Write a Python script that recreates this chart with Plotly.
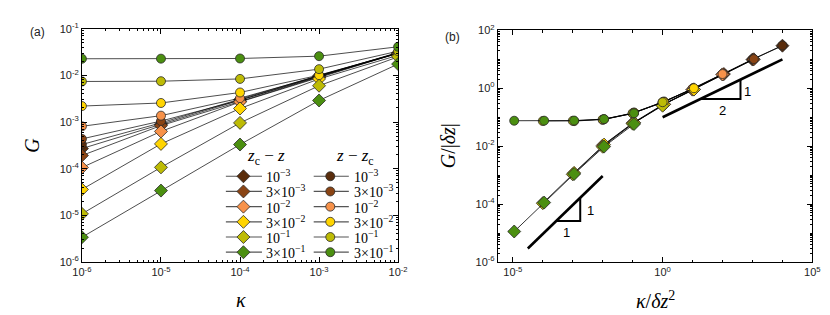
import numpy as np
import plotly.graph_objects as go

# ---------------- data ----------------
kappa = [1e-6, 1e-5, 1e-4, 1e-3, 1e-2]
dz_values = [1e-3, 3e-3, 1e-2, 3e-2, 1e-1, 3e-1]
dz_labels = ["10<sup>−3</sup>", "3×10<sup>−3</sup>", "10<sup>−2</sup>",
             "3×10<sup>−2</sup>", "10<sup>−1</sup>", "3×10<sup>−1</sup>"]
colors = ["#5a2d0c", "#8a4414", "#f7924a", "#ffd400", "#bdbb05", "#4b8f10"]

# G for z_c - z (diamonds), one list per dz, over kappa
G_below_1e3 = [2.7e-4, 9.0e-4, 3.0e-3, 9.8e-3, 0.0295]
G_below_3e3 = [1.92e-4, 8.4e-4, 2.76e-3, 9.3e-3, 0.0300]
G_below_1e2 = [1.06e-4, 6.3e-4, 2.7e-3, 9.0e-3, 0.0300]
G_below_3e2 = [3.6e-5, 3.4e-4, 1.95e-3, 8.4e-3, 0.027]
G_below_1e1 = [1.08e-5, 1.07e-4, 9.6e-4, 6.0e-3, 0.025]
G_below_3e1 = [3.4e-6, 3.4e-5, 3.3e-4, 2.9e-3, 0.0175]

# G for z - z_c (circles)
G_above_1e3 = [3.3e-4, 9.6e-4, 3.1e-3, 0.0100, 0.030]
G_above_3e3 = [4.35e-4, 1.05e-3, 2.94e-3, 9.45e-3, 0.0306]
G_above_1e2 = [8.1e-4, 1.37e-3, 3.25e-3, 9.7e-3, 0.031]
G_above_3e2 = [2.2e-3, 2.56e-3, 4.3e-3, 0.0101, 0.030]
G_above_1e1 = [7.4e-3, 7.5e-3, 8.4e-3, 0.0136, 0.033]
G_above_3e1 = [0.0227, 0.0228, 0.0230, 0.0258, 0.041]

G_below = [G_below_1e3, G_below_3e3, G_below_1e2, G_below_3e2, G_below_1e1, G_below_3e1]
G_above = [G_above_1e3, G_above_3e3, G_above_1e2, G_above_3e2, G_above_1e1, G_above_3e1]

# tick labels
left_x_exp = [-6, -5, -4, -3, -2]
left_y_exp = [-6, -5, -4, -3, -2, -1]
right_x_exp = [-5, 0, 5]
right_y_exp = [-6, -4, -2, 0, 2]

# ---------------- figure ----------------
W, H = 830, 315
def px_x(p):
    return p / W
def px_y(p):
    return 1 - p / H

fig = go.Figure()
mk_line = dict(color="#2a2a2a", width=0.8)
k = np.array(kappa)

for i, dz in enumerate(dz_values):
    gb = np.array(G_below[i])
    ga = np.array(G_above[i])
    fig.add_trace(go.Scatter(
        x=k, y=gb, mode="lines+markers", xaxis="x", yaxis="y",
        line=dict(color="black", width=0.7),
        marker=dict(symbol="diamond", size=10, color=colors[i], line=mk_line),
        showlegend=False))
    fig.add_trace(go.Scatter(
        x=k, y=ga, mode="lines+markers", xaxis="x", yaxis="y",
        line=dict(color="black", width=0.7),
        marker=dict(symbol="circle", size=9, color=colors[i], line=mk_line),
        showlegend=False))

for i, dz in enumerate(dz_values):
    gb = np.array(G_below[i])
    ga = np.array(G_above[i])
    fig.add_trace(go.Scatter(
        x=k / dz**2, y=gb / dz, mode="lines+markers", xaxis="x2", yaxis="y2",
        line=dict(color="black", width=0.8),
        marker=dict(symbol="diamond", size=10, color=colors[i], line=mk_line),
        showlegend=False))
    fig.add_trace(go.Scatter(
        x=k / dz**2, y=ga / dz, mode="lines+markers", xaxis="x2", yaxis="y2",
        line=dict(color="black", width=0.8),
        marker=dict(symbol="circle", size=9, color=colors[i], line=mk_line),
        showlegend=False))

# slope guides (power laws) on right panel
def guide(x0, x1, c, p):
    xs = np.array([10**x0, 10**x1])
    return xs, 10**c * xs**p

for gx, gy in (guide(-4.5, -2.0, -1.03, 1.0), guide(0.0, 4.0, -1.0, 0.5)):
    fig.add_trace(go.Scatter(x=gx, y=gy, mode="lines", xaxis="x2", yaxis="y2",
                             line=dict(color="black", width=2.6), showlegend=False))
tri1 = ([10**-3.55, 10**-2.75, 10**-2.75], [10**-4.58, 10**-4.58, 10**-3.78])
tri2 = ([10**1.25, 10**2.6, 10**2.6], [10**-0.375, 10**-0.375, 10**0.3])
for tx, ty in (tri1, tri2):
    fig.add_trace(go.Scatter(x=tx, y=ty, mode="lines", xaxis="x2", yaxis="y2",
                             line=dict(color="black", width=2.0), showlegend=False))

# ---------------- legend (two columns, drawn on an overlay pixel axis) ----------------
leg_row0, leg_dy = 167.7, 15.9
leg_cols = [dict(x0=213, xm=231, x1=250, tx=252, sym="diamond", size=10, head=254,
                 title="<i>z</i><sub>c</sub> − <i>z</i>"),
            dict(x0=303, xm=320, x1=339, tx=342, sym="circle", size=9, head=345,
                 title="<i>z</i> − <i>z</i><sub>c</sub>")]
leg_ann = []
for c in leg_cols:
    leg_ann.append(dict(x=c["head"], y=148, text=c["title"], xref="x3", yref="y3",
                        showarrow=False, xanchor="center", yanchor="middle",
                        font=dict(family="Liberation Serif", size=17, color="black")))
    for i in range(len(dz_values)):
        yy = leg_row0 + i * leg_dy
        fig.add_trace(go.Scatter(x=[c["x0"], c["x1"]], y=[yy, yy], mode="lines",
                                 xaxis="x3", yaxis="y3", line=dict(color="#555", width=1.2),
                                 showlegend=False, hoverinfo="skip"))
        fig.add_trace(go.Scatter(x=[c["xm"]], y=[yy], mode="markers", xaxis="x3", yaxis="y3",
                                 marker=dict(symbol=c["sym"], size=c["size"], color=colors[i],
                                             line=mk_line),
                                 showlegend=False, hoverinfo="skip"))
        leg_ann.append(dict(x=c["tx"], y=yy, text=dz_labels[i], xref="x3", yref="y3",
                            showarrow=False, xanchor="left", yanchor="middle",
                            font=dict(family="Liberation Serif", size=14, color="black")))

tickfont = dict(family="Liberation Sans", size=11, color="#222")

def minor_vals(lo, hi, subs):
    return [s * 10.0**d for d in range(lo, hi) for s in subs]

def pow_ticks(exps):
    return [10.0**e for e in exps], ["10<sup>%d</sup>" % e for e in exps]

axis_common = dict(type="log", showgrid=False, zeroline=False, showline=True,
                   linecolor="black", linewidth=1, mirror="allticks",
                   ticks="inside", ticklen=5, tickcolor="black", tickwidth=0.8,
                   tickfont=tickfont, tickmode="array")
minor_common = dict(ticks="inside", ticklen=2.5, tickcolor="black", tickwidth=0.6)

lx_v, lx_t = pow_ticks(left_x_exp)
ly_v, ly_t = pow_ticks(left_y_exp)
rx_v, rx_t = pow_ticks(right_x_exp)
ry_v, ry_t = pow_ticks(right_y_exp)

fig.update_layout(
    width=W, height=H, margin=dict(l=0, r=0, t=0, b=0),
    paper_bgcolor="white", plot_bgcolor="rgba(0,0,0,0)",
    font=dict(color="black"), showlegend=False,
    xaxis=dict(axis_common, domain=[px_x(65.5), px_x(389.5)], range=[-6, -2],
               tickvals=lx_v, ticktext=lx_t, anchor="y",
               minor=dict(minor_common, tickvals=minor_vals(-6, -2, range(2, 10)))),
    yaxis=dict(axis_common, domain=[px_y(257.5), px_y(13.3)], range=[-6, -1],
               tickvals=ly_v, ticktext=ly_t, anchor="x",
               minor=dict(minor_common, tickvals=minor_vals(-6, -1, range(2, 10)))),
    xaxis2=dict(axis_common, domain=[px_x(491.7), px_x(814)], range=[-5.5, 5],
                tickvals=rx_v, ticktext=rx_t, anchor="y2",
                minor=dict(minor_common, tickvals=[10.0**d for d in range(-5, 6)])),
    yaxis2=dict(axis_common, domain=[px_y(257.5), px_y(15)], range=[-6, 2],
                tickvals=ry_v, ticktext=ry_t, anchor="x2",
                minor=dict(minor_common, tickvals=minor_vals(-6, 2, range(1, 10)))),
    xaxis3=dict(domain=[0, 1], range=[0, W], visible=False, fixedrange=True, anchor="y3"),
    yaxis3=dict(domain=[0, 1], range=[H, 0], visible=False, fixedrange=True, anchor="x3"),
)

ann_font = dict(family="Liberation Serif", size=20, color="black")
annotations = [
    dict(x=px_x(20), y=px_y(17), text="(a)", font=dict(family="Liberation Sans", size=12, color="#222")),
    dict(x=px_x(445), y=px_y(22), text="(b)", font=dict(family="Liberation Sans", size=12, color="#222")),
    dict(x=px_x(14), y=px_y(135), text="<i>G</i>", textangle=-90, font=ann_font),
    dict(x=px_x(228), y=px_y(297), text="<i>κ</i>", font=ann_font),
    dict(x=px_x(442), y=px_y(136), text="<i>G</i>/|<i>δz</i>|", textangle=-90, font=ann_font),
    dict(x=px_x(653), y=px_y(297), text="<i>κ</i>/<i>δz</i><sup>2</sup>", font=ann_font),
]
for a in annotations:
    a.update(xref="paper", yref="paper", showarrow=False, xanchor="center", yanchor="middle")

lab_font = dict(family="Liberation Sans", size=13, color="black")
for xv, yv, t in [(-3.22, -4.975, "1"), (-2.40, -4.22, "1"),
                  (1.99, -0.755, "2"), (2.83, -0.116, "1")]:
    annotations.append(dict(x=xv, y=yv, xref="x2", yref="y2", text=t,
                            showarrow=False, font=lab_font))
fig.update_layout(annotations=annotations + leg_ann)

fig.write_html("out.html")
